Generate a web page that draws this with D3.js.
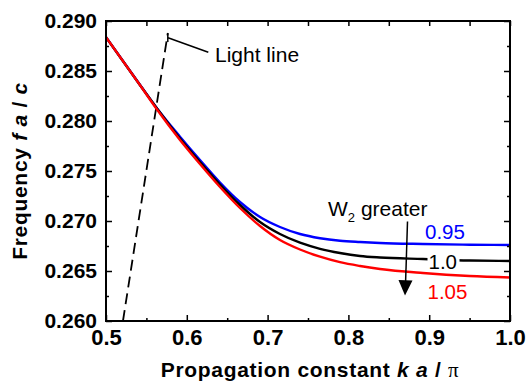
<!DOCTYPE html>
<html><head><meta charset="utf-8">
<script src="https://cdn.jsdelivr.net/npm/d3@7"></script>
<style>
body{margin:0;background:#fff;}
svg text{font-family:"Liberation Sans",Arial,Helvetica,sans-serif;}
</style></head>
<body><svg id="c" width="526" height="383"></svg>
<script>
// ---- data ----
const kValues = [0.5, 0.542, 0.5627, 0.5916, 0.6163, 0.6411, 0.6658, 0.6906, 0.7153, 0.7401, 0.7649, 0.7896, 0.8144, 0.8391, 0.8923, 0.95, 1.0];
const fBlue095 = [0.28837, 0.28363, 0.2813, 0.27843, 0.2761, 0.27385, 0.2719, 0.2704, 0.2694, 0.2687, 0.26828, 0.26803, 0.2679, 0.2678, 0.2677, 0.26763, 0.2676];
const fBlack10 = [0.28837, 0.2836, 0.2813, 0.27825, 0.2759, 0.27365, 0.2716, 0.2699, 0.2687, 0.26783, 0.26722, 0.2668, 0.2665, 0.26635, 0.2662, 0.26605, 0.2660];
const fRed105  = [0.28837, 0.2836, 0.2812, 0.2781, 0.2757, 0.2734, 0.2713, 0.2695, 0.2681, 0.26715, 0.26643, 0.26588, 0.2655, 0.2652, 0.2648, 0.2645, 0.26435];
const lightLineK = [0.521, 0.5765];
const lightLineF = [0.260, 0.2888];
const xTicks = [0.5, 0.6, 0.7, 0.8, 0.9, 1.0];
const xMinor = [0.55, 0.65, 0.75, 0.85, 0.95];
const yTicks = [0.260, 0.265, 0.270, 0.275, 0.280, 0.285, 0.290];
const yMinor = [0.2625, 0.2675, 0.2725, 0.2775, 0.2825, 0.2875];
const seriesLabels = ["0.95", "1.0", "1.05"];

// ---- layout ----
const L = 106, R = 510, T = 21, B = 321;
const svg = d3.select("#c");
const x = d3.scaleLinear().domain([0.5, 1.0]).range([L, R]);
const y = d3.scaleLinear().domain([0.260, 0.290]).range([B, T]);

svg.append("clipPath").attr("id","pc").append("rect")
  .attr("x", L).attr("y", T).attr("width", R-L).attr("height", B-T);

// light line
svg.append("path")
  .datum(lightLineK.map((k,i)=>[k, lightLineF[i]]))
  .attr("d", d3.line().x(d=>x(d[0])).y(d=>y(d[1])))
  .attr("fill","none").attr("stroke","#000").attr("stroke-width",1.8)
  .attr("stroke-dasharray","11,6");

// curves
const line = d3.line().curve(d3.curveMonotoneX).x(d=>x(d[0])).y(d=>y(d[1]));
const series = [
  {vals: fBlue095, color: "#0000ff"},
  {vals: fBlack10, color: "#000000"},
  {vals: fRed105,  color: "#ff0000"}
];
const g = svg.append("g").attr("clip-path","url(#pc)");
series.forEach(s => {
  g.append("path").datum(kValues.map((k,i)=>[k, s.vals[i]]))
    .attr("d", line).attr("fill","none").attr("stroke", s.color).attr("stroke-width", 2.4);
});

// axes
function styleAxis(sel){
  sel.select(".domain").remove();
  sel.selectAll(".tick line").attr("stroke","#000").attr("stroke-width",1.5);
}
const xa = svg.append("g").attr("transform",`translate(0,${B})`)
  .call(d3.axisBottom(x).tickValues(xTicks).tickSize(-6).tickPadding(8).tickFormat(d3.format(".1f")));
styleAxis(xa);
xa.selectAll("text").attr("font-size",22).attr("font-weight","bold").attr("fill","#000");
svg.append("g").attr("transform",`translate(0,${B})`)
  .call(d3.axisBottom(x).tickValues(xMinor).tickSize(-3).tickFormat("")).call(styleAxis);
svg.append("g").attr("transform",`translate(0,${T})`)
  .call(d3.axisTop(x).tickValues(xTicks.concat(xMinor)).tickSize(-5).tickFormat("")).call(styleAxis);

const ya = svg.append("g").attr("transform",`translate(${L},0)`)
  .call(d3.axisLeft(y).tickValues(yTicks).tickSize(-6).tickPadding(9).tickFormat(d3.format(".3f")));
styleAxis(ya);
ya.selectAll("text").attr("font-size",21).attr("font-weight","bold").attr("fill","#000");
svg.append("g").attr("transform",`translate(${L},0)`)
  .call(d3.axisLeft(y).tickValues(yMinor).tickSize(-3).tickFormat("")).call(styleAxis);
svg.append("g").attr("transform",`translate(${R},0)`)
  .call(d3.axisRight(y).tickValues(yTicks).tickSize(-6).tickFormat("")).call(styleAxis);
svg.append("g").attr("transform",`translate(${R},0)`)
  .call(d3.axisRight(y).tickValues(yMinor).tickSize(-3).tickFormat("")).call(styleAxis);

// frame
svg.append("rect").attr("x",L).attr("y",T).attr("width",R-L).attr("height",B-T)
  .attr("fill","none").attr("stroke","#000").attr("stroke-width",2);

// axis titles
const xt = svg.append("text").attr("x",(L+R)/2+2).attr("y",376.5).attr("text-anchor","middle")
  .attr("font-size",21).attr("font-weight","bold").attr("fill","#000").attr("letter-spacing",0.7)
  .style("white-space","pre");
xt.append("tspan").text("Propagation constant ");
xt.append("tspan").attr("font-style","italic").text("k");
xt.append("tspan").text(" ");
xt.append("tspan").attr("font-style","italic").text("a");
xt.append("tspan").text(" / ");
xt.append("tspan").attr("font-weight","normal").attr("font-family","Liberation Serif, serif").text("π");

const yt = svg.append("text").attr("transform",`translate(27,${(T+B)/2}) rotate(-90)`)
  .attr("text-anchor","middle").attr("font-size",21).attr("font-weight","bold").attr("fill","#000")
  .attr("letter-spacing",0.7).style("white-space","pre");
yt.append("tspan").text("Frequency ");
yt.append("tspan").attr("font-style","italic").text("f");
yt.append("tspan").text(" ");
yt.append("tspan").attr("font-style","italic").text("a");
yt.append("tspan").text(" / ");
yt.append("tspan").attr("font-style","italic").text("c");

// light line annotation
svg.append("line").attr("x1",168).attr("y1",37.7).attr("x2",208.3).attr("y2",52.3)
  .attr("stroke","#000").attr("stroke-width",1.5);
svg.append("line").attr("x1",167.8).attr("y1",33.3).attr("x2",167.8).attr("y2",42)
  .attr("stroke","#000").attr("stroke-width",1.5);
svg.append("text").attr("x",215).attr("y",61.5).attr("font-size",21).attr("fill","#000").text("Light line");

// W2 greater
const wt = svg.append("text").attr("x",328).attr("y",216).attr("font-size",21).attr("fill","#000");
wt.append("tspan").text("W");
wt.append("tspan").attr("font-size",13).attr("dy",6).text("2");
wt.append("tspan").attr("dy",-6).text(" greater");
svg.append("line").attr("x1",407.5).attr("y1",221.5).attr("x2",405.6).attr("y2",282)
  .attr("stroke","#000").attr("stroke-width",1.5);
svg.append("path").attr("d","M398.5,280 L412.5,280.4 L405,295.5 Z").attr("fill","#000");

// series labels
svg.append("text").attr("x",425).attr("y",238.5).attr("font-size",20.5).attr("fill","#0000ff").text(seriesLabels[0]);
svg.append("rect").attr("x",427.5).attr("y",252).attr("width",32).attr("height",18).attr("fill","#fff");
svg.append("text").attr("x",428.5).attr("y",268.5).attr("font-size",20.5).attr("fill","#000").text(seriesLabels[1]);
svg.append("text").attr("x",427.5).attr("y",298.5).attr("font-size",20.5).attr("fill","#ff0000").text(seriesLabels[2]);
</script></body></html>
